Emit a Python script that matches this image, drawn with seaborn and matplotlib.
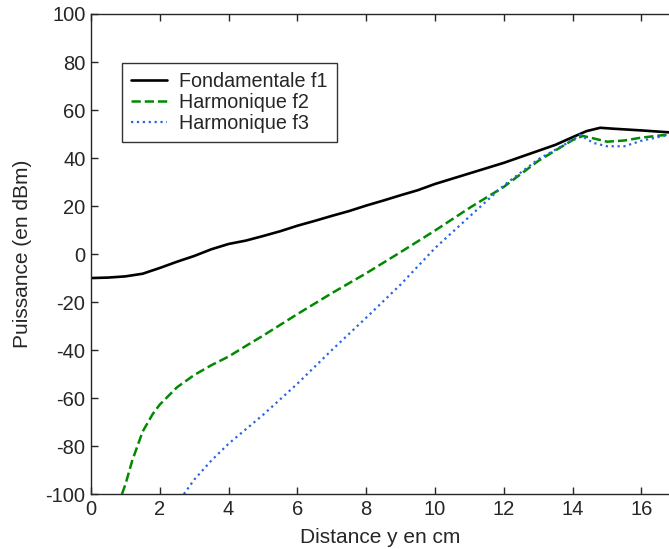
import matplotlib
matplotlib.use("Agg")
import matplotlib.pyplot as plt
import seaborn as sns
import numpy as np
import pandas as pd

# values
x_f1 = [0, 0.5, 1, 1.5, 2, 2.5, 3, 3.5, 4, 4.5, 5, 5.5, 6, 6.5, 7, 7.5, 8, 8.5,
        9, 9.5, 10, 10.5, 11, 11.5, 12, 12.5, 13, 13.5, 14, 14.4, 14.8, 15.2, 16, 16.8]
y_f1 = [-10, -9.8, -9.3, -8.2, -5.8, -3.2, -0.8, 2, 4.2, 5.6, 7.5, 9.5, 11.8, 13.8,
        15.9, 17.9, 20.2, 22.3, 24.5, 26.6, 29.2, 31.4, 33.6, 35.8, 38, 40.5, 43,
        45.5, 48.7, 51.2, 52.6, 52.2, 51.5, 50.7]

x_f2 = [0.9, 1.0, 1.2, 1.5, 1.8, 2, 2.5, 3, 3.5, 4, 4.5, 5, 6, 7, 8, 9, 10, 11,
        12, 13, 14, 14.3, 14.6, 15, 15.5, 16, 16.8]
y_f2 = [-100, -96, -86, -74, -66.5, -62.7, -55.5, -50.4, -46.3, -42.7, -38.3, -34,
        -25, -16.3, -8, 0.8, 9.8, 19.2, 28, 38.8, 47.5, 49.2, 48.2, 46.8, 47.3, 48.5, 49.8]

x_f3 = [2.7, 3, 3.5, 4, 4.5, 5, 6, 7, 8, 9, 10, 11, 12, 13, 14, 14.2, 14.6, 15,
        15.5, 16, 16.8]
y_f3 = [-100, -94, -86, -79, -73, -67, -54, -40, -26.5, -12.7, 2.5, 15.6, 28.6,
        39.5, 47.5, 49.7, 46.3, 44.9, 44.9, 47.2, 49.7]

labels = ["Fondamentale f1", "Harmonique f2", "Harmonique f3"]

df = pd.concat([
    pd.DataFrame({"x": x_f1, "y": y_f1, "serie": labels[0]}),
    pd.DataFrame({"x": x_f2, "y": y_f2, "serie": labels[1]}),
    pd.DataFrame({"x": x_f3, "y": y_f3, "serie": labels[2]}),
])

sns.set_style("ticks")
plt.rcParams["font.family"] = ["Liberation Sans", "DejaVu Sans"]
plt.rcParams["axes.unicode_minus"] = False

fig = plt.figure(figsize=(6.69, 5.49), dpi=100)
ax = fig.add_axes([0.136, 0.1, 0.864, 0.8745])

colors = ["black", "#008a00", "#2a66e0"]
styles = ["-", "--", ":"]
widths = [1.9, 1.8, 1.6]
for lab, c, ls, lw in zip(labels, colors, styles, widths):
    sns.lineplot(data=df[df["serie"] == lab], x="x", y="y", ax=ax, color=c,
                 linestyle=ls, linewidth=lw, label=lab, sort=False,
                 estimator=None)

ax.set_xlim(0, 16.8)
ax.set_ylim(-100, 100)
ax.set_xticks(np.arange(0, 17, 2))
ax.set_yticks(np.arange(-100, 101, 20))
ax.tick_params(direction="in", length=5, labelsize=14.5, top=True, right=False,
               width=1, pad=4)
ax.spines["right"].set_visible(False)
for s in ["top", "left", "bottom"]:
    ax.spines[s].set_linewidth(1)
ax.set_xlabel("Distance y en cm", fontsize=15, labelpad=7)
ax.set_ylabel("Puissance (en dBm)", fontsize=15, labelpad=10)

leg = ax.legend(loc="upper left", bbox_to_anchor=(0.054, 0.898), fontsize=14.2,
                frameon=True, fancybox=False, edgecolor="black",
                handlelength=1.8, handletextpad=0.65, borderpad=0.45,
                labelspacing=0.1, borderaxespad=0)
leg.get_frame().set_linewidth(1)

fig.savefig("out.png", dpi=100)
